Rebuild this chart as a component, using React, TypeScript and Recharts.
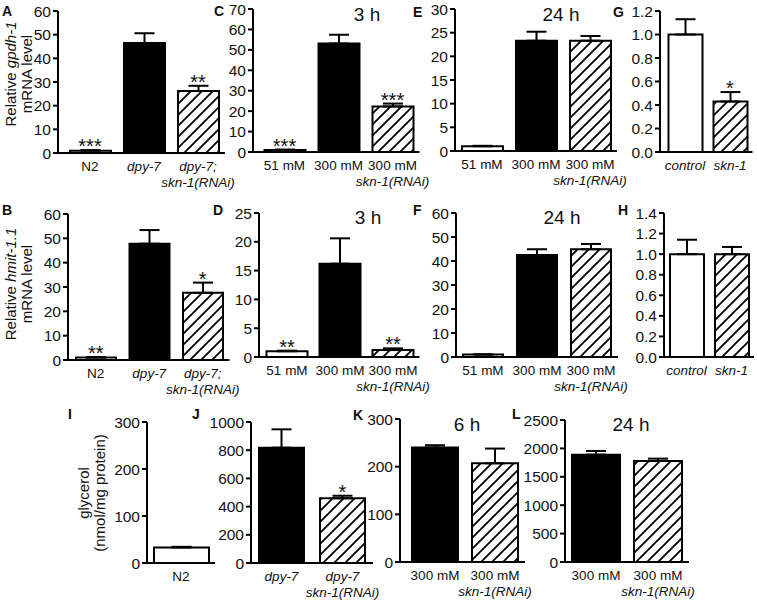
import React from "react";
import { ComposedChart, Bar, Line, XAxis, YAxis, ErrorBar, Cell } from "recharts";

const FONT = "'Liberation Sans', Arial, Helvetica, sans-serif";

// category labels ("\n" = second label line)
const catsStrain = ["N2", "dpy-7", "dpy-7;\nskn-1(RNAi)"];
const catsOsmo = ["51 mM", "300 mM", "300 mM\nskn-1(RNAi)"];
const catsRnai = ["control", "skn-1"];
const catsN2 = ["N2"];
const catsGly = ["dpy-7", "dpy-7\nskn-1(RNAi)"];
const catsHigh = ["300 mM", "300 mM\nskn-1(RNAi)"];

// A: gpdh-1 mRNA, strains
const gpdhStrain = [1.0, 46.5, 26.2];
const gpdhStrainSem = [0.2, 4.1, 2.2];
const gpdhStrainSig = ["***", "", "**"];
// C: gpdh-1, 3 h
const gpdh3h = [1.0, 53.1, 22.3];
const gpdh3hSem = [0.2, 4.3, 1.4];
const gpdh3hSig = ["***", "", "***"];
// E: gpdh-1, 24 h
const gpdh24h = [1.0, 23.3, 23.3];
const gpdh24hSem = [0.1, 1.9, 1.0];
// G: gpdh-1, RNAi
const gpdhRnai = [1.0, 0.43];
const gpdhRnaiSem = [0.13, 0.08];
const gpdhRnaiSig = ["", "*"];
// B: hmit-1.1, strains
const hmitStrain = [1.0, 47.8, 27.6];
const hmitStrainSem = [0.2, 5.6, 4.2];
const hmitStrainSig = ["**", "", "*"];
// D: hmit-1.1, 3 h
const hmit3h = [1.0, 16.2, 1.2];
const hmit3hSem = [0.1, 4.4, 0.3];
const hmit3hSig = ["**", "", "**"];
// F: hmit-1.1, 24 h
const hmit24h = [1.0, 42.5, 44.9];
const hmit24hSem = [0.1, 2.4, 2.2];
// H: hmit-1.1, RNAi
const hmitRnai = [1.0, 1.0];
const hmitRnaiSem = [0.14, 0.07];
// I-L: glycerol
const glyN2 = [33];
const glyN2Sem = [1.5];
const glyDpy = [818, 459];
const glyDpySem = [130, 18];
const glyDpySig = ["", "*"];
const gly6h = [240, 207];
const gly6hSem = [5, 31];
const gly24h = [1890, 1780];
const gly24hSem = [65, 40];

const ticks60 = [0, 10, 20, 30, 40, 50, 60];
const ticks70 = [0, 10, 20, 30, 40, 50, 60, 70];
const ticks30 = [0, 5, 10, 15, 20, 25, 30];
const ticks25 = [0, 5, 10, 15, 20, 25];
const ticks12 = [0, 0.2, 0.4, 0.6, 0.8, 1.0, 1.2];
const ticks14 = [0, 0.2, 0.4, 0.6, 0.8, 1.0, 1.2, 1.4];
const ticks300 = [0, 100, 200, 300];
const ticks1000 = [0, 200, 400, 600, 800, 1000];
const ticks2500 = [0, 500, 1000, 1500, 2000, 2500];

const W = "#fff";
const K = "#000";
const H = "url(#hatch)";

type PanelCfg = {
  cats: string[];
  mean: number[];
  sem: number[];
  sig?: string[];
  fills: string[];
  ticks: number[];
  dec?: boolean;
  axisX: number;
  yTop: number;
  yBottom: number;
  padL: number;
  plotW: number;
  barSize: number;
};

const panels: PanelCfg[] = [
  { cats: catsStrain, mean: gpdhStrain, sem: gpdhStrainSem, sig: gpdhStrainSig, fills: [W, K, H], ticks: ticks60, axisX: 58, yTop: 11, yBottom: 153, padL: 5, plotW: 167, barSize: 41 },
  { cats: catsOsmo, mean: gpdh3h, sem: gpdh3hSem, sig: gpdh3hSig, fills: [W, K, H], ticks: ticks70, axisX: 253, yTop: 9, yBottom: 152, padL: 4.5, plotW: 166.5, barSize: 41 },
  { cats: catsOsmo, mean: gpdh24h, sem: gpdh24hSem, fills: [W, K, H], ticks: ticks30, axisX: 455, yTop: 9, yBottom: 151, padL: 0, plotW: 162, barSize: 41 },
  { cats: catsRnai, mean: gpdhRnai, sem: gpdhRnaiSem, sig: gpdhRnaiSig, fills: [W, H], ticks: ticks12, dec: true, axisX: 660, yTop: 11, yBottom: 152, padL: 2.5, plotW: 92.5, barSize: 34 },
  { cats: catsStrain, mean: hmitStrain, sem: hmitStrainSem, sig: hmitStrainSig, fills: [W, K, H], ticks: ticks60, axisX: 68, yTop: 214, yBottom: 360, padL: 1, plotW: 161.5, barSize: 40 },
  { cats: catsOsmo, mean: hmit3h, sem: hmit3hSem, sig: hmit3hSig, fills: [W, K, H], ticks: ticks25, axisX: 259, yTop: 213, yBottom: 357, padL: 1.5, plotW: 160.5, barSize: 41 },
  { cats: catsOsmo, mean: hmit24h, sem: hmit24hSem, fills: [W, K, H], ticks: ticks60, axisX: 456, yTop: 213, yBottom: 357, padL: 0, plotW: 162, barSize: 40 },
  { cats: catsRnai, mean: hmitRnai, sem: hmitRnaiSem, fills: [W, H], ticks: ticks14, dec: true, axisX: 664, yTop: 213, yBottom: 357, padL: 0, plotW: 90, barSize: 34 },
  { cats: catsN2, mean: glyN2, sem: glyN2Sem, fills: [W], ticks: ticks300, axisX: 147, yTop: 422, yBottom: 563, padL: 0, plotW: 68, barSize: 55 },
  { cats: catsGly, mean: glyDpy, sem: glyDpySem, sig: glyDpySig, fills: [K, H], ticks: ticks1000, axisX: 251, yTop: 422, yBottom: 563, padL: 0, plotW: 122, barSize: 45 },
  { cats: catsHigh, mean: gly6h, sem: gly6hSem, fills: [K, H], ticks: ticks300, axisX: 400, yTop: 419, yBottom: 562, padL: 5, plotW: 125, barSize: 46 },
  { cats: catsHigh, mean: gly24h, sem: gly24hSem, fills: [K, H], ticks: ticks2500, axisX: 565, yTop: 420, yBottom: 562, padL: 0, plotW: 124, barSize: 48 },
];

const YW = 50;
const MT = 12;
const XH = 50;
const MR = 50;

function CatTick(props: any) {
  const { x, y, payload } = props;
  const lines = String(payload.value).split("\n");
  return (
    <g>
      {lines.map((ln, i) => (
        <text
          key={i}
          x={x}
          y={y + 18 + i * 16}
          textAnchor="middle"
          fontSize={13.5}
          fontFamily={FONT}
          fontStyle={/mM|N2/.test(ln) ? "normal" : "italic"}
          fill="#111"
        >
          {ln}
        </text>
      ))}
    </g>
  );
}

function StarDot(props: any) {
  const { cx, cy, payload, index } = props;
  if (cy == null || !payload || !payload.sig) return <g key={index} />;
  return (
    <text key={index} x={cx} y={cy + 3} textAnchor="middle" fontSize={20} fontFamily={FONT} fill="#111">
      {payload.sig}
    </text>
  );
}

function Panel({ p }: { p: PanelCfg }) {
  const rows = p.cats.map((c, i) => ({
    name: c,
    mean: p.mean[i],
    err: [0, p.sem[i]],
    sigAt: p.sig && p.sig[i] ? p.mean[i] + p.sem[i] : null,
    sig: p.sig ? p.sig[i] : "",
  }));
  const w = YW + p.plotW + MR;
  const h = MT + (p.yBottom - p.yTop) + XH;
  const max = p.ticks[p.ticks.length - 1];
  return (
    <div style={{ position: "absolute", left: p.axisX - YW, top: p.yTop - MT }}>
      <ComposedChart width={w} height={h} data={rows} margin={{ top: MT, right: MR, bottom: 0, left: 0 }}>
        <XAxis
          dataKey="name"
          height={XH}
          tickLine={false}
          tickSize={0}
          tickMargin={0}
          interval={0}
          axisLine={{ stroke: "#000", strokeWidth: 2 }}
          padding={{ left: p.padL, right: 0 }}
          tick={<CatTick />}
        />
        <YAxis
          width={YW}
          domain={[0, max]}
          ticks={p.ticks}
          interval={0}
          tickSize={5}
          tickMargin={2}
          axisLine={{ stroke: "#000", strokeWidth: 2 }}
          tickLine={{ stroke: "#000", strokeWidth: 2 }}
          tick={{ fontSize: 15.5, fill: "#111", fontFamily: FONT }}
          tickFormatter={(v: number) => (p.dec ? v.toFixed(1) : String(v))}
        />
        <Bar dataKey="mean" barSize={p.barSize} stroke="#000" strokeWidth={2} isAnimationActive={false}>
          {rows.map((r, i) => (
            <Cell key={i} fill={p.fills[i]} />
          ))}
          <ErrorBar dataKey="err" direction="y" width={10} stroke="#000" strokeWidth={2} />
        </Bar>
        <Line dataKey="sigAt" stroke="none" dot={StarDot} activeDot={false} isAnimationActive={false} />
      </ComposedChart>
    </div>
  );
}

const letters: [string, number, number][] = [
  ["A", 2, 16], ["C", 214, 16], ["E", 413, 17], ["G", 613, 17],
  ["B", 2, 215], ["D", 213, 215], ["F", 413, 215], ["H", 618, 215],
  ["I", 68, 419], ["J", 192, 419], ["K", 353, 420], ["L", 512, 419],
];

const titles: [string, number, number][] = [
  ["3 h", 367, 21], ["24 h", 561, 21], ["3 h", 368, 224], ["24 h", 562, 224], ["6 h", 467, 431], ["24 h", 631, 431],
];

function YLabel({ x1, x2, cy, l1, l1i, l2 }: { x1: number; x2: number; cy: number; l1: string; l1i?: string; l2: string }) {
  return (
    <g fontFamily={FONT} fontSize={15} fill="#111">
      <text transform={`translate(${x1},${cy}) rotate(-90)`} textAnchor="middle">
        {l1}
        {l1i ? <tspan fontStyle="italic">{l1i}</tspan> : null}
      </text>
      <text transform={`translate(${x2},${cy}) rotate(-90)`} textAnchor="middle">
        {l2}
      </text>
    </g>
  );
}

export default function App() {
  return (
    <div style={{ position: "absolute", left: 0, top: 0, width: 757, height: 605, background: "#fff", overflow: "hidden" }}>
      <svg width={0} height={0} style={{ position: "absolute" }}>
        <defs>
          <pattern id="hatch" patternUnits="userSpaceOnUse" width={11} height={11}>
            <rect width={11} height={11} fill="#fff" />
            <path d="M-1,12 L12,-1 M-2,2 L2,-2 M9,13 L13,9" stroke="#000" strokeWidth={1.8} />
          </pattern>
        </defs>
      </svg>
      {panels.map((p, i) => (
        <Panel key={i} p={p} />
      ))}
      <svg width={757} height={605} style={{ position: "absolute", left: 0, top: 0, pointerEvents: "none" }}>
        {letters.map(([t, x, y]) => (
          <text key={t} x={x} y={y} fontFamily={FONT} fontWeight="bold" fontSize={14} fill="#111">
            {t}
          </text>
        ))}
        {titles.map(([t, x, y], i) => (
          <text key={i} x={x} y={y} textAnchor="middle" fontFamily={FONT} fontSize={19} fill="#111">
            {t}
          </text>
        ))}
        <YLabel x1={16} x2={32} cy={74} l1="Relative " l1i="gpdh-1" l2="mRNA level" />
        <YLabel x1={16} x2={32} cy={284} l1="Relative " l1i="hmit-1.1" l2="mRNA level" />
        <YLabel x1={89} x2={105} cy={493} l1="glycerol" l2="(nmol/mg protein)" />
      </svg>
    </div>
  );
}
